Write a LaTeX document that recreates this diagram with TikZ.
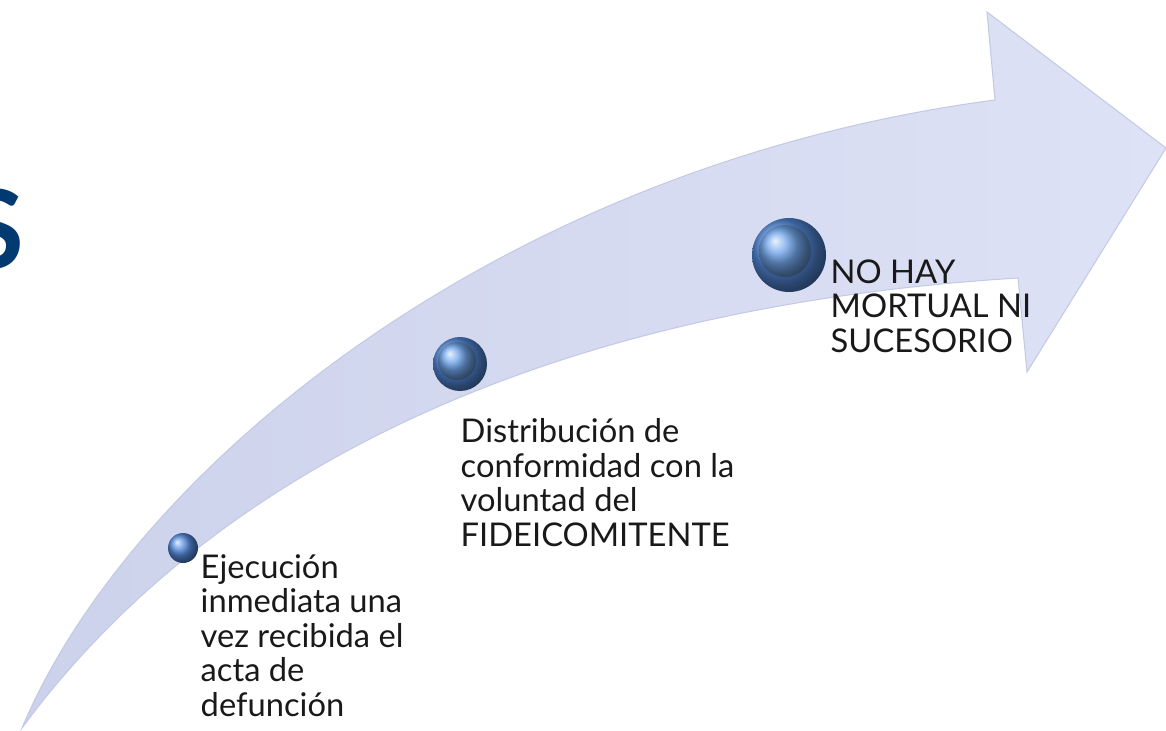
\documentclass[tikz,border=0pt]{standalone}
\usepackage{fontspec}
\setmainfont{Lato}
\definecolor{lavenderlow}{RGB}{204,210,235}
\definecolor{lavenderhigh}{RGB}{222,226,246}
\definecolor{lavenderedge}{RGB}{196,202,228}
\definecolor{beadblue}{RGB}{84,138,220}
\definecolor{beadlight}{RGB}{112,165,235}
\definecolor{navy}{RGB}{0,58,112}
\begin{document}
\begin{tikzpicture}[
        x=0.1mm, y=-0.1mm,
        bead/.style={circle, inner sep=0pt, shading=ball, ball color=beadblue},
        beadcore/.style={bead, ball color=beadlight},
        stagetext/.style={anchor=base west, inner sep=0pt, align=left,
            font=\fontsize{9.3}{9.8}\selectfont, text=black!90}
    ]
    \useasboundingbox (0,0) rectangle (1166,730);

    \node[anchor=base east, inner sep=0pt, text=navy,
        font=\fontsize{31}{31}\selectfont\bfseries] (cutletter) at (25,268) {S};

    \path[left color=lavenderlow, right color=lavenderhigh, draw=lavenderedge, line width=0.3pt]
        (22,728) .. controls (130,470) and (500,165) .. (995,100)
        -- (987,12) -- (1166,148) -- (1027,372) -- (1018,278)
        .. controls (500,310) and (190,500) .. (22,728) -- cycle;

    \node[bead, minimum size=3mm] (first) at (183,548) {};
    \node[bead, minimum size=5.4mm] (second) at (460,364) {};
    \node[beadcore, minimum size=3.8mm] (secondcore) at ([shift={(-3,-3)}]second.center) {};
    \node[bead, minimum size=7.4mm] (third) at (789,255) {};
    \node[beadcore, minimum size=5.2mm] (thirdcore) at ([shift={(-4,-4)}]third.center) {};

    \node[stagetext] (firsttext) at (200,716)
        {Ejecución\\inmediata una\\vez recibida el\\acta de\\defunción};
    \node[stagetext] (secondtext) at (460,546)
        {Distribución de\\conformidad con la\\voluntad del\\FIDEICOMITENTE};
    \node[stagetext] (thirdtext) at (830,352)
        {NO HAY\\MORTUAL NI\\SUCESORIO};
\end{tikzpicture}
\end{document}
